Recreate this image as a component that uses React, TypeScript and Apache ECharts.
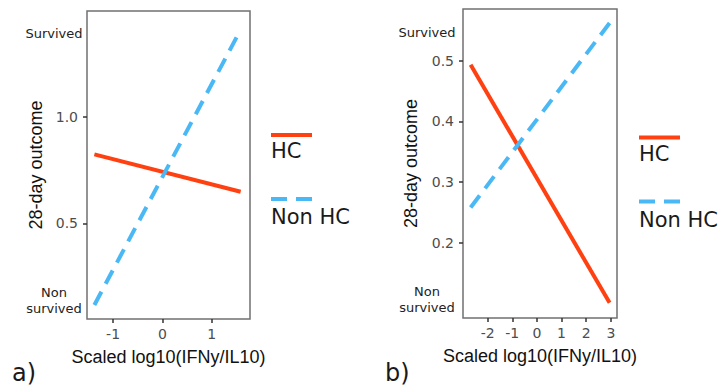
import React, { useEffect, useRef } from "react";
import * as echarts from "echarts";

// ---- data ----
const seriesNames = ["HC", "Non HC"];
// panel a
const aHC: number[][] = [[-1.38, 0.825], [1.59, 0.649]];
const aNonHC: number[][] = [[-1.38, 0.116], [1.59, 1.412]];
const aXTicks = [-1, 0, 1];
const aYTicks = [0.5, 1.0];
const aXRange = [-1.53, 1.78];
const aYRange = [0.05, 1.5];
const aOutcomePos = [0.136, 1.394];
// panel b
const bHC: number[][] = [[-2.69, 0.493], [2.95, 0.101]];
const bNonHC: number[][] = [[-2.69, 0.258], [2.95, 0.562]];
const bXTicks = [-2, -1, 0, 1, 2, 3];
const bYTicks = [0.2, 0.3, 0.4, 0.5];
const bXRange = [-3.0, 3.25];
const bYRange = [0.076, 0.585];
const bOutcomePos = [0.107, 0.547];
const outcomeLabels = ["Non\nsurvived", "Survived"];
const xTitle = "Scaled log10(IFNy/IL10)";
const yTitle = "28-day outcome";
const panelLabels = ["a)", "b)"];

const HC_COLOR = "#FF4112";
const NONHC_COLOR = "#4AB8F5";
const FRAME = "#707070";
const DEJAVU = "DejaVu Sans";
const ARIAL = "Liberation Sans";

function xAxisFor(grid: number, range: number[], ticks: number[]) {
  return {
    type: "value",
    gridIndex: grid,
    min: range[0],
    max: range[1],
    position: "bottom",
    name: xTitle,
    nameLocation: "middle",
    nameGap: 29,
    nameTextStyle: { fontFamily: ARIAL, fontSize: 18, color: "#111" },
    axisLine: { show: false, onZero: false },
    splitLine: { show: false },
    axisTick: {
      show: true,
      length: 4,
      customValues: ticks,
      lineStyle: { color: "#333", width: 1.5 },
    },
    axisLabel: {
      customValues: ticks,
      margin: 8,
      fontFamily: DEJAVU,
      fontSize: 14,
      color: "#4d4d4d",
      formatter: (v: number) => String(Math.round(v)),
    },
  };
}

function yAxisFor(grid: number, range: number[], ticks: number[], gap: number) {
  return {
    type: "value",
    gridIndex: grid,
    min: range[0],
    max: range[1],
    position: "left",
    name: yTitle,
    nameLocation: "middle",
    nameGap: gap,
    nameRotate: 90,
    nameTextStyle: { fontFamily: ARIAL, fontSize: 18, color: "#111" },
    axisLine: { show: false, onZero: false },
    splitLine: { show: false },
    axisTick: {
      show: true,
      length: 4,
      customValues: ticks,
      lineStyle: { color: "#333", width: 1.5 },
    },
    axisLabel: {
      customValues: ticks,
      margin: 9,
      fontFamily: DEJAVU,
      fontSize: 14,
      color: "#4d4d4d",
      formatter: (v: number) => v.toFixed(1),
    },
  };
}

function outcomeAxisFor(grid: number, range: number[], pos: number[], margin: number) {
  return {
    type: "value",
    gridIndex: grid,
    min: range[0],
    max: range[1],
    position: "left",
    axisLine: { show: false, onZero: false },
    axisTick: { show: false },
    splitLine: { show: false },
    axisLabel: {
      customValues: pos,
      margin,
      align: "center",
      fontFamily: DEJAVU,
      fontSize: 13,
      lineHeight: 16,
      color: "#222",
      formatter: (v: number) => {
        const i = pos.findIndex((p) => Math.abs(p - v) < 1e-9);
        return i >= 0 ? outcomeLabels[i] : "";
      },
    },
  };
}

function lineSeries(name: string, data: number[][], xi: number, yi: number, dashed: boolean) {
  return {
    type: "line",
    name,
    xAxisIndex: xi,
    yAxisIndex: yi,
    data,
    showSymbol: false,
    symbol: "none",
    silent: true,
    lineStyle: {
      color: dashed ? NONHC_COLOR : HC_COLOR,
      width: 4,
      type: dashed ? [15, 9] : "solid",
      cap: "butt",
    },
    z: dashed ? 3 : 2,
  };
}

function legendGroup(x: number, y: number) {
  return [
    {
      type: "line",
      shape: { x1: x, y1: y, x2: x + 41, y2: y },
      style: { stroke: HC_COLOR, lineWidth: 4 },
    },
    {
      type: "text",
      x: x,
      y: y + 16,
      style: {
        text: seriesNames[0],
        fontFamily: DEJAVU,
        fontSize: 21,
        fill: "#1a1a1a",
        textAlign: "left",
        textVerticalAlign: "middle",
      },
    },
    {
      type: "line",
      shape: { x1: x, y1: y + 64, x2: x + 41, y2: y + 64 },
      style: { stroke: NONHC_COLOR, lineWidth: 4, lineDash: [16, 9] },
    },
    {
      type: "text",
      x: x,
      y: y + 82,
      style: {
        text: seriesNames[1],
        fontFamily: DEJAVU,
        fontSize: 21,
        fill: "#1a1a1a",
        textAlign: "left",
        textVerticalAlign: "middle",
      },
    },
  ];
}

export default function App() {
  const ref = useRef<HTMLDivElement>(null);
  useEffect(() => {
    if (!ref.current) return;
    const chart = echarts.init(ref.current, null, { renderer: "svg" });
    const option: any = {
      animation: false,
      backgroundColor: "#ffffff",
      grid: [
        { left: 87, top: 11, width: 163, height: 308, show: true, borderColor: FRAME, borderWidth: 1.5, backgroundColor: "transparent" },
        { left: 463, top: 9, width: 154, height: 309, show: true, borderColor: FRAME, borderWidth: 1.5, backgroundColor: "transparent" },
      ],
      xAxis: [xAxisFor(0, aXRange, aXTicks), xAxisFor(1, bXRange, bXTicks)],
      yAxis: [
        yAxisFor(0, aYRange, aYTicks, 42),
        outcomeAxisFor(0, aYRange, aOutcomePos, 33),
        yAxisFor(1, bYRange, bYTicks, 43),
        outcomeAxisFor(1, bYRange, bOutcomePos, 36),
      ],
      series: [
        lineSeries(seriesNames[0], aHC, 0, 0, false),
        lineSeries(seriesNames[1], aNonHC, 0, 0, true),
        lineSeries(seriesNames[0], bHC, 1, 2, false),
        lineSeries(seriesNames[1], bNonHC, 1, 2, true),
      ],
      graphic: [
        ...legendGroup(271, 135),
        ...legendGroup(639, 137.5),
        {
          type: "text",
          x: 12,
          y: 373,
          style: { text: panelLabels[0], fontFamily: DEJAVU, fontSize: 24, fill: "#1a1a1a", textVerticalAlign: "middle" },
        },
        {
          type: "text",
          x: 385,
          y: 373,
          style: { text: panelLabels[1], fontFamily: DEJAVU, fontSize: 24, fill: "#1a1a1a", textVerticalAlign: "middle" },
        },
      ],
    };
    chart.setOption(option);
    return () => chart.dispose();
  }, []);
  return (
    <div
      ref={ref}
      style={{ position: "fixed", left: 0, top: 0, width: 720, height: 388, background: "#fff" }}
    />
  );
}
